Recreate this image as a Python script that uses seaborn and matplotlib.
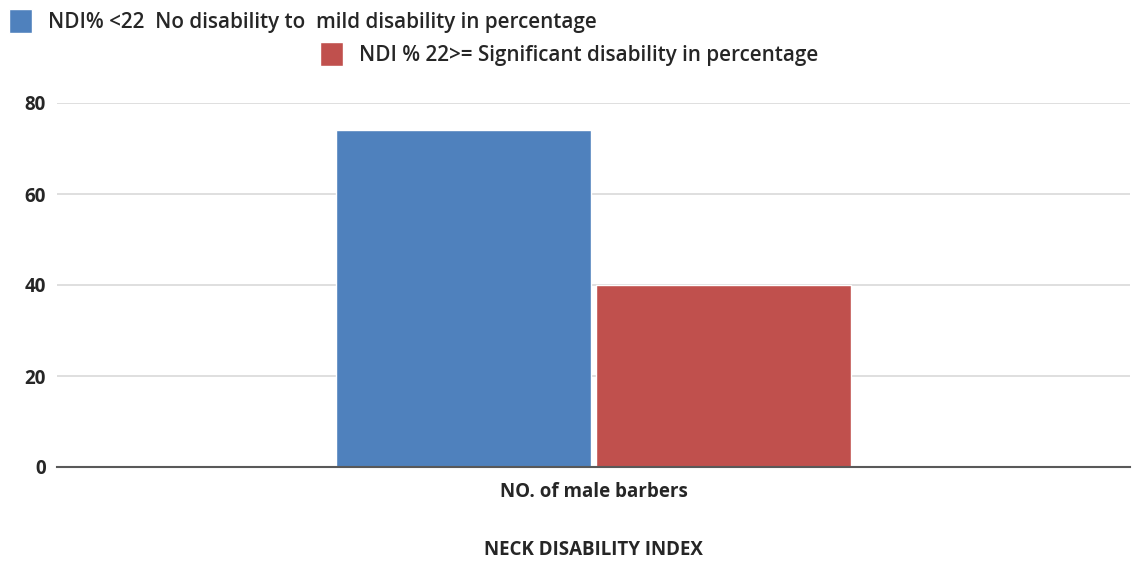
import matplotlib
matplotlib.use("Agg")
import matplotlib.pyplot as plt
import seaborn as sns
import pandas as pd

categories = ["NO. of male barbers"]
series_names = ["NDI% <22  No disability to  mild disability in percentage",
                "NDI % 22>= Significant disability in percentage"]
no_mild = [74]
significant = [40]
colors = ["#4F81BD", "#C0504D"]
x_title = "NECK DISABILITY INDEX"

df = pd.DataFrame({
    "category": categories * 2,
    "series": [series_names[0]] * len(categories) + [series_names[1]] * len(categories),
    "value": no_mild + significant,
})

sns.set_theme(style="white")
plt.rcParams["font.family"] = ["Open Sans", "DejaVu Sans"]

fig = plt.figure(figsize=(11.32, 5.63), dpi=100)
ax = fig.add_axes([57 / 1132, 1 - 467 / 563, (1130 - 57) / 1132, (467 - 103) / 563])

sns.barplot(data=df, x="category", y="value", hue="series", palette=colors,
            width=0.485, gap=0.02, ax=ax, legend=True, saturation=1)

ax.set_ylim(0, 80)
ax.set_xlim(-0.5, 0.5)
ax.set_yticks([0, 20, 40, 60, 80])
ax.yaxis.grid(True, color="#d9d9d9", linewidth=1.2)
ax.set_axisbelow(True)
for s in ["top", "right", "left"]:
    ax.spines[s].set_visible(False)
ax.spines["bottom"].set_color("#595959")
ax.spines["bottom"].set_linewidth(1.5)
ax.tick_params(axis="y", length=0, pad=8, labelsize=13.5, labelcolor="#262626")
ax.tick_params(axis="x", length=0, pad=11, labelsize=13.5, labelcolor="#262626")
for lab in ax.get_yticklabels() + ax.get_xticklabels():
    lab.set_fontweight("bold")
ax.set_ylabel("")
ax.set_xlabel(x_title, fontsize=13.5, fontweight="bold", color="#262626", labelpad=27)

handles, labels = ax.get_legend_handles_labels()
ax.get_legend().remove()
common = dict(frameon=False, fontsize=14.9, handlelength=1.1, handleheight=1.4,
              handletextpad=0.8, borderaxespad=0, borderpad=0)
leg1 = fig.legend([handles[0]], [labels[0]], loc="center left",
                  bbox_to_anchor=(9 / 1132, 1 - 21 / 563), **common)
leg2 = fig.legend([handles[1]], [labels[1]], loc="center left",
                  bbox_to_anchor=(320 / 1132, 1 - 54 / 563), **common)
for leg in (leg1, leg2):
    for t in leg.get_texts():
        t.set_color("#262626")
        t.set_fontweight("semibold")

fig.savefig("out.png", dpi=100)
